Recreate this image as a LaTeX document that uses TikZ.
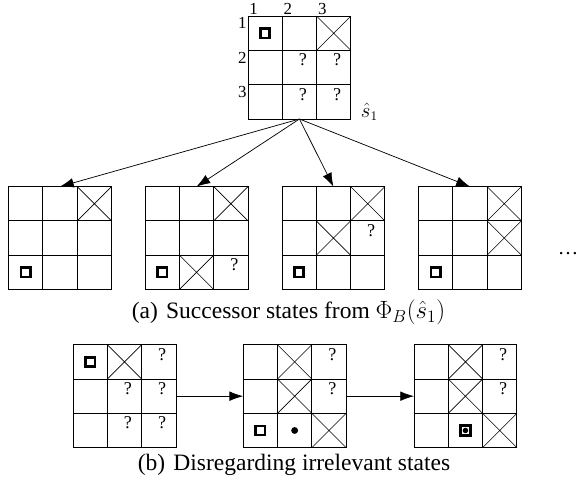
\documentclass[tikz,border=0pt]{standalone}
\usepackage{amsmath}
\usepackage{amssymb}
\usepackage{fontspec}
\setmainfont{Liberation Serif}
\usetikzlibrary{calc,arrows.meta}

\tikzset{
  board/.style={draw, line width=0.7pt, minimum size=3cm, inner sep=0pt, outer sep=0pt},
  gridline/.style={line width=0.7pt},
  crossline/.style={line width=0.5pt},
  qmark/.style={inner sep=0pt, font=\fontsize{15}{17}\selectfont},
  agent/.style={draw, line width=2.2pt, minimum size=0.27cm, inner sep=0pt},
  agentdot/.style={draw, line width=3pt, minimum size=0.3cm, inner sep=0pt},
  dot/.style={circle, fill, minimum size=0.2cm, inner sep=0pt},
  smalldot/.style={circle, fill, minimum size=0.16cm, inner sep=0pt},
  idx/.style={inner sep=1pt, font=\fontsize{14}{16}\selectfont},
  succ/.style={-{Latex[length=4mm,width=2.8mm]}, line width=0.6pt},
  caption/.style={font=\fontsize{19.5}{22}\selectfont}
}

% a 3x3 board: name, position
\newcommand{\board}[2]{%
  \node[board] (#1) at (#2) {};
  \draw[gridline] ($(#1.north west)+(1,0)$) -- ($(#1.south west)+(1,0)$);
  \draw[gridline] ($(#1.north west)+(2,0)$) -- ($(#1.south west)+(2,0)$);
  \draw[gridline] ($(#1.north west)+(0,-1)$) -- ($(#1.north east)+(0,-1)$);
  \draw[gridline] ($(#1.north west)+(0,-2)$) -- ($(#1.north east)+(0,-2)$);
}
% board, column, row
\newcommand{\blocked}[3]{%
  \draw[crossline] ($(#1.north west)+(#2-1,1-#3)$) -- ++(1,-1) ++(-1,0) -- ++(1,1);}
\newcommand{\unknown}[3]{%
  \node[qmark] (#1-q#2#3) at ($(#1.north west)+(#2-0.4,0.72-#3)$) {?};}
\newcommand{\robot}[3]{%
  \node[agent] (#1-a#2#3) at ($(#1.north west)+(#2-0.5,0.5-#3)$) {};}
\newcommand{\target}[3]{%
  \node[dot] (#1-d#2#3) at ($(#1.north west)+(#2-0.5,0.5-#3)$) {};}

\begin{document}
\begin{tikzpicture}
\useasboundingbox (0,0) rectangle (16.88,-14.26);

% current state
\board{s1}{8.73,-1.97}
\robot{s1}{1}{1}
\blocked{s1}{3}{1}
\unknown{s1}{2}{2} \unknown{s1}{3}{2}
\unknown{s1}{2}{3} \unknown{s1}{3}{3}
\node[idx, anchor=south west] (c1) at ($(s1.north west)+(0,0)$) {1};
\node[idx, anchor=south west] (c2) at ($(s1.north west)+(1,0)$) {2};
\node[idx, anchor=south west] (c3) at ($(s1.north west)+(2,0)$) {3};
\node[idx, anchor=north east] (r1) at ($(s1.north west)+(0,0)$) {1};
\node[idx, anchor=north east] (r2) at ($(s1.north west)+(0,-1)$) {2};
\node[idx, anchor=north east] (r3) at ($(s1.north west)+(0,-2)$) {3};
\node[anchor=base west, inner sep=1pt, font=\fontsize{16}{18}\selectfont] (lbl) at ($(s1.south east)+(0.25,0.05)$) {$\hat{s}_1$};

% successors
\board{a1}{1.75,-6.94}
\blocked{a1}{3}{1}
\robot{a1}{1}{3}

\board{a2}{5.73,-6.94}
\blocked{a2}{3}{1}
\robot{a2}{1}{3}
\blocked{a2}{2}{3}
\unknown{a2}{3}{3}

\board{a3}{9.72,-6.94}
\blocked{a3}{3}{1}
\blocked{a3}{2}{2}
\unknown{a3}{3}{2}
\robot{a3}{1}{3}

\board{a4}{13.7,-6.94}
\blocked{a4}{3}{1}
\blocked{a4}{3}{2}
\robot{a4}{1}{3}

\node[anchor=base, font=\fontsize{17}{20}\selectfont] (more) at (16.56,-7.43) {\dots};

\draw[succ] (s1.south) -- (a1.north);
\draw[succ] (s1.south) -- (a2.north);
\draw[succ] (s1.south) -- (a3.north);
\draw[succ] (s1.south) -- (a4.north);

\node[caption] (capa) at (8.41,-9.1) {(a)\hspace{0.35em}Successor states from $\Phi_B(\hat{s}_1)$};

% irrelevant states
\board{b1}{3.63,-11.55}
\robot{b1}{1}{1}
\blocked{b1}{2}{1}
\unknown{b1}{3}{1}
\unknown{b1}{2}{2} \unknown{b1}{3}{2}
\unknown{b1}{2}{3} \unknown{b1}{3}{3}

\board{b2}{8.59,-11.55}
\blocked{b2}{2}{1} \unknown{b2}{3}{1}
\blocked{b2}{2}{2} \unknown{b2}{3}{2}
\robot{b2}{1}{3}
\target{b2}{2}{3}
\blocked{b2}{3}{3}

\board{b3}{13.57,-11.55}
\blocked{b3}{2}{1} \unknown{b3}{3}{1}
\blocked{b3}{2}{2} \unknown{b3}{3}{2}
\node[agentdot] (b3-a23) at ($(b3.north west)+(1.5,-2.5)$) {};
\node[smalldot] (b3-d23) at (b3-a23) {};
\blocked{b3}{3}{3}

\draw[succ] (b1.east) -- (b2.west);
\draw[succ] (b2.east) -- (b3.west);

\node[caption] (capb) at (8.57,-13.56) {(b)\hspace{0.35em}Disregarding irrelevant states};
\end{tikzpicture}
\end{document}
